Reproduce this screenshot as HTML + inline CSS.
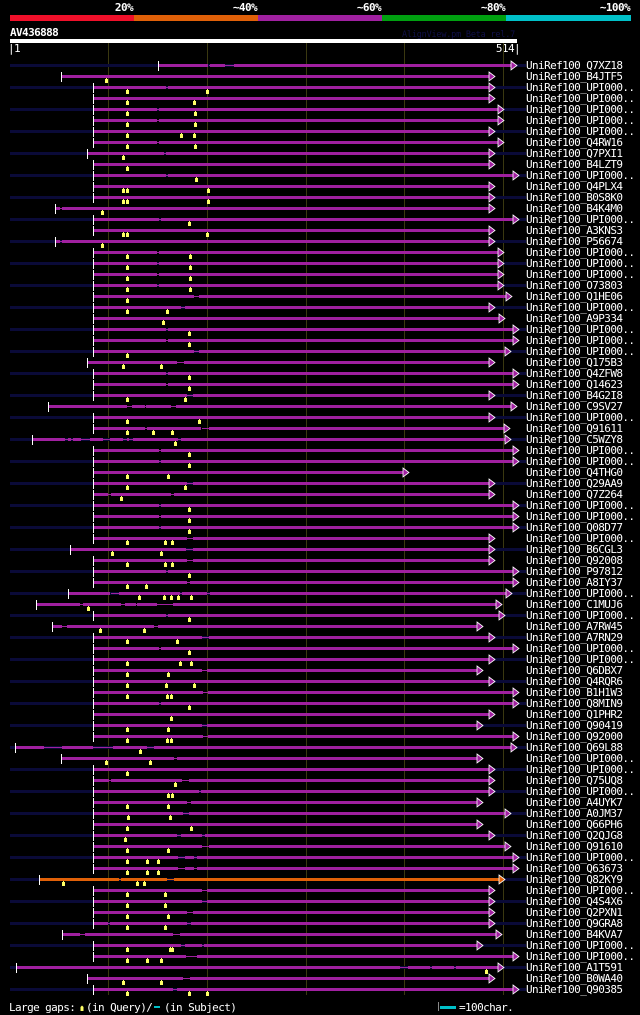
<!DOCTYPE html>
<html><head><meta charset="utf-8">
<style>
html,body{margin:0;padding:0;background:#000;}
svg{display:block;}
text{font-family:"DejaVu Sans Mono","Liberation Mono",monospace;}
rect{shape-rendering:crispEdges;}
</style></head>
<body>
<svg id="chart" width="640" height="1015" viewBox="0 0 640 1015">
<rect x="0" y="0" width="640" height="1015" fill="#000"/>
<g>
<rect x="10" y="15" width="124" height="6" fill="#f0102a"/>
<rect x="134" y="15" width="124" height="6" fill="#e06008"/>
<rect x="258" y="15" width="124" height="6" fill="#a020a0"/>
<rect x="382" y="15" width="124" height="6" fill="#00a010"/>
<rect x="506" y="15" width="125" height="6" fill="#00c0c8"/>
<g fill="#fff" font-size="11" font-weight="bold" text-anchor="end" style="letter-spacing:-0.6px">
<text x="133" y="11">20%</text>
<text x="257" y="11">~40%</text>
<text x="381" y="11">~60%</text>
<text x="505" y="11">~80%</text>
<text x="630" y="11">~100%</text>
</g></g>
<text x="10" y="36" fill="#fff" font-size="11" font-weight="bold" style="letter-spacing:-0.6px">AV436888</text>
<text x="402" y="37" fill="#10104a" font-size="8.5" style="letter-spacing:-0.2px">AlignView.pm Beta rel.7</text>
<rect x="10" y="39" width="507" height="4" fill="#fff"/>
<text x="8" y="52" fill="#fff" font-size="11" style="letter-spacing:-0.6px">|1</text>
<text x="520" y="52" fill="#fff" font-size="11" text-anchor="end" style="letter-spacing:-0.6px">514|</text>
<g id="grid"></g>
<g id="rows"></g>
<g font-size="11" fill="#fff" style="letter-spacing:-0.6px">
<text x="9" y="1011">Large gaps:</text>
<polygon points="80.5,1011 80.5,1007 82,1005.5 83.5,1007 83.5,1011" fill="#ffff66"/>
<text x="86" y="1011">(in Query)/</text>
<rect x="154" y="1006" width="6" height="2" fill="#00c0c8"/>
<text x="164" y="1011">(in Subject)</text>
<rect x="438" y="1002" width="1" height="9" fill="#888"/>
<rect x="440" y="1006" width="16" height="3" fill="#00c0c8"/>
<text x="459" y="1011">=100char.</text>
</g>
</svg>
<script>
const queryLen = 514;
const gridTicks = [100, 200, 300, 400, 500];
const names = ["Q7XZ18","B4JTF5","UPI000..","UPI000..","UPI000..","UPI000..","UPI000..","Q4RW16","Q7PXI1","B4LZT9","UPI000..","Q4PLX4","B0S8K0","B4K4M0","UPI000..","A3KNS3","P56674","UPI000..","UPI000..","UPI000..","O73803","Q1HE06","UPI000..","A9P334","UPI000..","UPI000..","UPI000..","Q175B3","Q4ZFW8","Q14623","B4G2I8","C9SV27","UPI000..","Q91611","C5WZY8","UPI000..","UPI000..","Q4THG0","Q29AA9","Q7Z264","UPI000..","UPI000..","Q08D77","UPI000..","B6CGL3","Q92008","P97812","A8IY37","UPI000..","C1MUJ6","UPI000..","A7RW45","A7RN29","UPI000..","UPI000..","Q6DBX7","Q4RQR6","B1H1W3","Q8MIN9","Q1PHR2","Q90419","Q92000","Q69L88","UPI000..","UPI000..","Q75UQ8","UPI000..","A4UYK7","A0JM37","Q66PH6","Q2QJG8","Q91610","UPI000..","Q63673","Q82KY9","UPI000..","Q4S4X6","Q2PXN1","Q9GRA8","B4KVA7","UPI000..","UPI000..","A1T591","B0WA40","Q90385"];
const starts = [151,53,85,85,85,85,85,85,79,85,85,85,85,47,85,85,47,85,85,85,85,85,85,85,85,85,85,79,85,85,85,39,85,85,23,85,85,85,85,85,85,85,85,85,62,85,85,85,60,27,85,44,85,85,85,85,85,85,85,85,85,85,6,53,85,85,85,85,85,85,85,85,85,85,30,85,85,85,85,54,85,85,7,79,85];
const ends = [508,486,486,486,495,495,486,495,486,486,510,486,486,486,510,486,486,495,495,495,495,503,486,496,510,510,502,486,510,510,486,508,486,501,502,510,510,399,486,486,510,510,510,486,486,486,510,510,503,493,496,474,486,510,486,474,486,510,510,486,474,510,508,474,486,486,486,474,502,474,486,502,510,510,496,486,486,486,486,493,474,510,495,486,510];
const gaps = [[[202,203],[218,228]],[],[[159,161]],[],[[150,152]],[[150,152]],[],[[150,152]],[[157,159]],[],[[159,161]],[],[],[[52,54]],[[152,154]],[],[[52,54]],[[150,152]],[[150,152]],[[150,152]],[[150,152]],[[187,192]],[[174,178]],[],[[159,161]],[[159,161]],[[187,192]],[[170,177]],[[159,161]],[[159,161]],[[180,186]],[[119,124],[137,139],[164,169]],[],[[138,140],[195,202]],[[56,60],[63,65],[73,82],[95,102],[115,119],[121,125],[171,174]],[[152,154]],[[152,154]],[],[[180,186]],[[100,103],[164,167]],[[152,154]],[[152,154]],[[152,154]],[[180,186]],[[179,186]],[[180,186]],[[159,161]],[[180,183]],[[103,111],[173,175],[200,203]],[[72,75],[113,117],[128,130],[150,166]],[[159,161]],[[54,59],[147,151]],[[195,202]],[[152,154]],[],[[195,200]],[],[[196,201]],[[152,154]],[],[[195,200]],[[196,201]],[[35,54],[85,105],[139,147]],[[167,170]],[],[[101,103],[175,182]],[[192,194]],[[180,184]],[[176,182]],[],[[170,174],[195,198]],[[195,202]],[[171,178],[187,190]],[[171,178],[187,190]],[[111,113],[160,167]],[[195,200]],[[195,200]],[[180,186]],[[100,102],[180,184]],[[72,77],[166,173]],[[174,178],[195,197]],[[179,190]],[[396,404],[426,428],[450,452]],[[176,183]],[[166,170]]];
const markers = [[],[98],[119,200],[119,187],[119,188],[119,188],[119,174,187],[119,188],[115],[119],[189],[115,119,201],[115,119,201],[94],[182],[115,119,200],[94],[119,183],[119,183],[119,183],[119,183],[119],[119,160],[156],[182],[182],[119],[115,154],[182],[182],[119,178],[],[119,192],[119,146,165],[168],[182],[182],[119,161],[119,178],[113],[182],[182],[182],[119,158,165],[104,154],[119,158,165],[182],[119,139],[132,157,164,171,184],[80],[182],[92,137],[119,170],[182],[119,173,184],[119,161],[119,159,187],[119,160,164],[182],[164],[119,161],[119,160,164],[133],[98,143],[119],[168],[161,165],[119,161],[120,163],[119,184],[117],[119,161],[119,140,151],[119,140,151],[55,130,137],[119,158],[119,158],[119,161],[119,158],[],[119,163,165],[119,140,154],[483],[115,154],[119,182,200]];
const scoreClass = names.map((n,i)=> i===74 ? "40" : "60");

const NS = "http://www.w3.org/2000/svg";
const X0 = 10, X1 = 517, Y0 = 65, DY = 11;
function xs(c){ return X0 + (c-1)*(X1-X0)/(queryLen-1); }
function ys(i){ return Y0 + i*DY; }
function mk(tag, attrs, parent){ const e=document.createElementNS(NS,tag); for(const k in attrs) e.setAttribute(k,attrs[k]); parent.appendChild(e); return e; }

const grid = document.getElementById('grid');
gridTicks.forEach(t=>{
  const gx = Math.round(xs(t))+0.5;
  const l = mk('line',{x1:gx,x2:gx,y1:43,y2:995,stroke:'#3a3810','stroke-width':1},grid);
  
  
});

const rows = document.getElementById('rows');
names.forEach((n,i)=>{
  const y = ys(i);
  const col = scoreClass[i]==="40" ? '#e06008' : '#a020a0';
  const g = mk('g',{},rows);
  
  
  if(i%2===0){
    const bg = mk('rect',{x:X0,y:y-1,width:516,height:3,fill:'#0a0a38'},g);
    
    
  }
  const gl = gaps[i].slice().sort((a,b)=>a[0]-b[0]);
  let cur = starts[i];
  const segs = [];
  gl.forEach(gp=>{ segs.push([cur,gp[0]]); cur = gp[1]; });
  segs.push([cur, ends[i]]);
  gl.forEach(gp=>{
    const t = mk('rect',{x:Math.round(xs(gp[0])),y:y,width:Math.max(1,Math.round(xs(gp[1])-xs(gp[0]))),height:1,fill:col},g);
    
    
  });
  segs.forEach(s=>{
    const r = mk('rect',{x:Math.round(xs(s[0])),y:y-1,width:Math.max(1,Math.round(xs(s[1])-xs(s[0]))),height:3,fill:col},g);
    
    
  });
  const ex = Math.round(xs(ends[i]));
  const a = mk('polygon',{points:`${ex},${y-4} ${ex+6},${y+0.5} ${ex},${y+5}`,fill:col,stroke:'#fff','stroke-width':0.8},g);
  
  
  const sx = Math.round(xs(starts[i]))+0.5;
  const tk = mk('line',{x1:sx,x2:sx,y1:y-4,y2:y+6,stroke:'#fff','stroke-width':1},g);
  
  
  markers[i].forEach(m=>{
    const mx = Math.round(xs(m));
    const p = mk('path',{d:`M${mx-1},${y+3}h3v4h-3z M${mx},${y+2}h1v1h-1z`,fill:'#ffff66','shape-rendering':'crispEdges'},g);
    
    
  });
  const tx = mk('text',{x:526,y:y+4,fill:'#fff','font-size':11,style:'letter-spacing:-0.6px'},g);
  tx.textContent = 'UniRef100_'+n;
  
  
});
</script>
</body></html>
